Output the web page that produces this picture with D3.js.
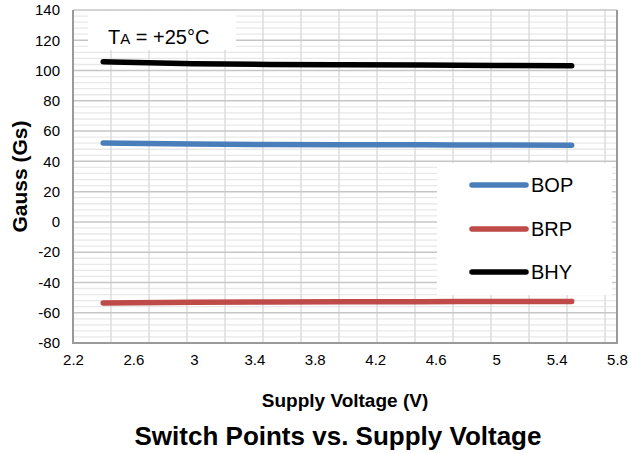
<!DOCTYPE html>
<html>
<head>
<meta charset="utf-8">
<script src="https://cdn.jsdelivr.net/npm/d3@7"></script>
<style>
  html, body { margin: 0; padding: 0; background: #fff; }
  svg { display: block; font-family: "Liberation Sans", Arial, sans-serif; }
</style>
</head>
<body>
<svg id="chart" width="631" height="453"></svg>
<script>
// Supply voltage sweep (V)
const voltage = [2.4, 3.0, 3.5, 4.0, 4.5, 5.0, 5.5];
// Switch points (Gauss)
const bop = [52.2, 51.4, 51.1, 51.0, 50.9, 50.8, 50.7];
const brp = [-53.6, -53.1, -52.9, -52.8, -52.7, -52.6, -52.5];
const bhy = [105.8, 104.5, 104.0, 103.8, 103.6, 103.4, 103.2];

const seriesNames = ["BOP", "BRP", "BHY"];
const seriesColors = ["#4a7ebb", "#be4b48", "#000000"];

const xTicks = [2.2, 2.6, 3.0, 3.4, 3.8, 4.2, 4.6, 5.0, 5.4, 5.8];
const yTicks = [140, 120, 100, 80, 60, 40, 20, 0, -20, -40, -60, -80];

const svg = d3.select("#chart");
const plot = { left: 73, right: 617, top: 10, bottom: 343 };

const x = d3.scaleLinear().domain([2.2, 5.8]).range([plot.left, plot.right]);
const y = d3.scaleLinear().domain([-80, 140]).range([plot.bottom, plot.top]);

// plain number format with ASCII hyphen for negatives
const fmt = d => String(+(+d).toFixed(1));

// minor horizontal grid every 4 G
const minorY = d3.range(-80, 141, 4).filter(v => v % 20 !== 0);
svg.append("g").selectAll("line").data(minorY).join("line")
  .attr("x1", plot.left).attr("x2", plot.right)
  .attr("y1", d => y(d)).attr("y2", d => y(d))
  .attr("stroke", "#e8e8e8").attr("stroke-width", 1.3);

// vertical grid
const vGrid = d3.range(1, 15).map(i => 2.2 + i * 0.2515);
svg.append("g").selectAll("line").data(vGrid).join("line")
  .attr("x1", d => x(d)).attr("x2", d => x(d))
  .attr("y1", plot.top).attr("y2", plot.bottom)
  .attr("stroke", "#dddddd").attr("stroke-width", 1.5);

// major horizontal grid
svg.append("g").selectAll("line").data(yTicks).join("line")
  .attr("x1", plot.left).attr("x2", plot.right)
  .attr("y1", d => y(d)).attr("y2", d => y(d))
  .attr("stroke", "#c6c6c6").attr("stroke-width", 1.5);

// plot frame (left, bottom, right)
svg.append("path")
  .attr("d", `M${plot.left},${plot.top}V${plot.bottom}H${plot.right}V${plot.top}`)
  .attr("fill", "none").attr("stroke", "#9a9a9a").attr("stroke-width", 2);

// axis tick labels
const xAxis = svg.append("g")
  .attr("transform", `translate(0,${plot.bottom})`)
  .call(d3.axisBottom(x).tickValues(xTicks).tickSize(0).tickPadding(11).tickFormat(fmt));
xAxis.select(".domain").remove();
xAxis.selectAll("text").attr("font-size", 15).attr("fill", "#000")
  .attr("font-family", "Liberation Sans, Arial, sans-serif");

const yAxis = svg.append("g")
  .attr("transform", `translate(${plot.left},0)`)
  .call(d3.axisLeft(y).tickValues(yTicks).tickSize(0).tickPadding(13).tickFormat(fmt));
yAxis.select(".domain").remove();
yAxis.selectAll("text").attr("font-size", 15).attr("fill", "#000")
  .attr("font-family", "Liberation Sans, Arial, sans-serif");

// temperature note box
svg.append("rect").attr("x", 88).attr("y", 11).attr("width", 148).attr("height", 39)
  .attr("fill", "#fff");
const note = svg.append("text").attr("x", 108).attr("y", 43.5)
  .attr("font-size", 20).attr("fill", "#000");
note.append("tspan").text("T");
note.append("tspan").attr("font-size", 15).text("A");
note.append("tspan").text(" = +25°C");

// legend box
svg.append("rect").attr("x", 437).attr("y", 163).attr("width", 175).attr("height", 132)
  .attr("fill", "#fff");

// series
const line = d3.line().curve(d3.curveMonotoneX)
  .x(d => x(d[0])).y(d => y(d[1]));
const series = [bop, brp, bhy];
series.forEach((vals, i) => {
  svg.append("path")
    .datum(voltage.map((v, j) => [v, vals[j]]))
    .attr("d", line)
    .attr("fill", "none")
    .attr("stroke", seriesColors[i])
    .attr("stroke-width", 5.5)
    .attr("stroke-linecap", "round")
    .attr("stroke-linejoin", "round");
});

// legend entries
const legendY = [185, 229, 272];
seriesNames.forEach((name, i) => {
  svg.append("line")
    .attr("x1", 472).attr("x2", 526)
    .attr("y1", legendY[i]).attr("y2", legendY[i])
    .attr("stroke", seriesColors[i]).attr("stroke-width", 5.5)
    .attr("stroke-linecap", "round");
  svg.append("text").attr("x", 531).attr("y", legendY[i] + 7)
    .attr("font-size", 20).attr("fill", "#000").text(name);
});

// axis titles
svg.append("text")
  .attr("transform", `translate(27,${(plot.top + plot.bottom) / 2}) rotate(-90)`)
  .attr("text-anchor", "middle")
  .attr("font-size", 21).attr("font-weight", "bold").text("Gauss (Gs)");

svg.append("text").attr("x", 345).attr("y", 407)
  .attr("text-anchor", "middle")
  .attr("font-size", 19).attr("font-weight", "bold").text("Supply Voltage (V)");

svg.append("text").attr("x", 338).attr("y", 445)
  .attr("text-anchor", "middle")
  .attr("font-size", 26).attr("font-weight", "bold").text("Switch Points vs. Supply Voltage");
</script>
</body>
</html>
